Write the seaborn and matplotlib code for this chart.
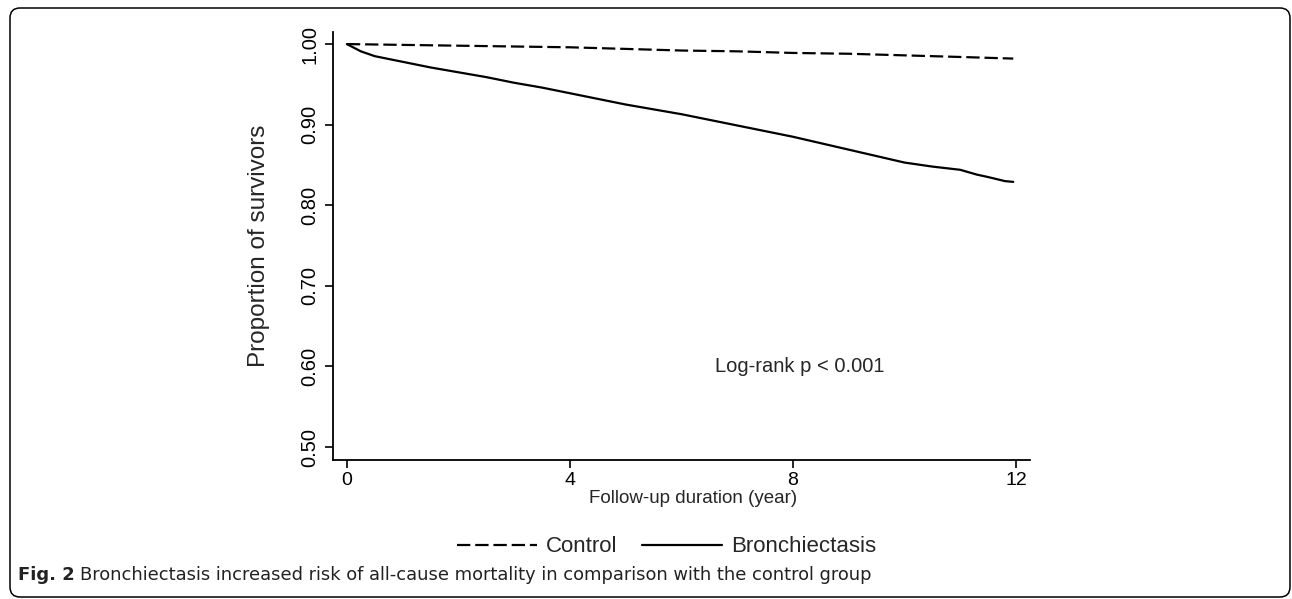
import matplotlib
matplotlib.use("Agg")
import matplotlib.pyplot as plt
import matplotlib.transforms as mtransforms
from matplotlib.patches import FancyBboxPatch
from matplotlib.lines import Line2D
import seaborn as sns
import pandas as pd

# Kaplan-Meier estimates
years_control = [0, 1, 2, 3, 4, 5, 6, 7, 8, 9, 10, 11, 11.95]
surv_control = [1.000, 0.999, 0.998, 0.997, 0.996, 0.994, 0.992, 0.991, 0.989, 0.988, 0.986, 0.984, 0.982]

years_bronch = [0, 0.25, 0.5, 1, 1.5, 2, 2.5, 3, 3.5, 4, 4.5, 5, 5.5, 6, 6.5, 7,
                7.5, 8, 8.5, 9, 9.5, 10, 10.5, 11, 11.3, 11.5, 11.8, 11.95]
surv_bronch = [1.000, 0.991, 0.985, 0.978, 0.971, 0.965, 0.959, 0.952, 0.946, 0.939,
               0.932, 0.925, 0.919, 0.913, 0.906, 0.899, 0.892, 0.885, 0.877, 0.869,
               0.861, 0.853, 0.848, 0.844, 0.838, 0.835, 0.830, 0.829]

x_ticks = [0, 4, 8, 12]
y_ticks = [0.50, 0.60, 0.70, 0.80, 0.90, 1.00]

df = pd.concat([
    pd.DataFrame({"year": years_control, "surv": surv_control, "group": "Control"}),
    pd.DataFrame({"year": years_bronch, "surv": surv_bronch, "group": "Bronchiectasis"}),
])

sns.set_style("ticks")
plt.rcParams["font.family"] = ["Liberation Sans", "DejaVu Sans"]

fig = plt.figure(figsize=(12.92, 5.99), dpi=100)
ax = fig.add_axes([0.2577, 0.2321, 0.5395, 0.7145])

dash = (6, 2.2)
sns.lineplot(data=df[df.group == "Control"], x="year", y="surv", ax=ax,
             color="black", lw=1.6, estimator=None, linestyle=(0, dash),
             legend=False)
sns.lineplot(data=df[df.group == "Bronchiectasis"], x="year", y="surv", ax=ax,
             color="black", lw=1.6, estimator=None, legend=False)

ax.set_xlim(-0.25, 12.25)
ax.set_ylim(0.484, 1.015)
ax.set_xticks(x_ticks)
ax.set_yticks(y_ticks)
ax.set_yticklabels([f"{v:.2f}" for v in y_ticks], rotation=90, va="center")
ax.tick_params(axis="both", length=6, width=1.2, color="black",
               labelcolor="black", pad=4)
ax.tick_params(axis="x", labelsize=14, pad=2.5)
ax.tick_params(axis="y", labelsize=14.5)
sns.despine(ax=ax)
for s in ["left", "bottom"]:
    ax.spines[s].set_linewidth(1.3)
    ax.spines[s].set_color("black")

ax.set_xlabel("Follow-up duration (year)", fontsize=13.5)
ax.xaxis.set_label_coords(0.5165, -0.071)
ax.set_ylabel("Proportion of survivors", fontsize=17.5, labelpad=22)

ax.text(8.13, 0.60, "Log-rank p < 0.001", fontsize=14.5, ha="center", va="center")

handles = [Line2D([], [], color="black", lw=1.6, linestyle=(0, dash)),
           Line2D([], [], color="black", lw=1.6)]
fig.legend(handles, ["Control", "Bronchiectasis"], loc="center",
           bbox_to_anchor=(0.516, 0.087), ncol=2, frameon=False, fontsize=16,
           handlelength=3.6, columnspacing=1.1, handletextpad=0.4)

# caption
cap_font = ["Liberation Sans Narrow", "DejaVu Sans"]
t1 = fig.text(18 / 1292, 1 - 575 / 599, "Fig. 2", fontsize=13, fontweight="bold",
              family=cap_font, color="#222222", va="center", ha="left")
fig.canvas.draw()
bb = t1.get_window_extent()
fig.text((bb.x1 + 5) / 1292, 1 - 575 / 599,
         "Bronchiectasis increased risk of all-cause mortality in comparison with the control group",
         fontsize=12.9, family=cap_font, color="#222222", va="center", ha="left")

# rounded frame around the figure
frame = FancyBboxPatch((10, 2), 1280, 589, boxstyle="round,pad=0,rounding_size=10",
                       transform=mtransforms.IdentityTransform(), fill=False,
                       edgecolor="black", lw=1.1)
fig.patches.append(frame)

fig.savefig("out.png", dpi=100)
